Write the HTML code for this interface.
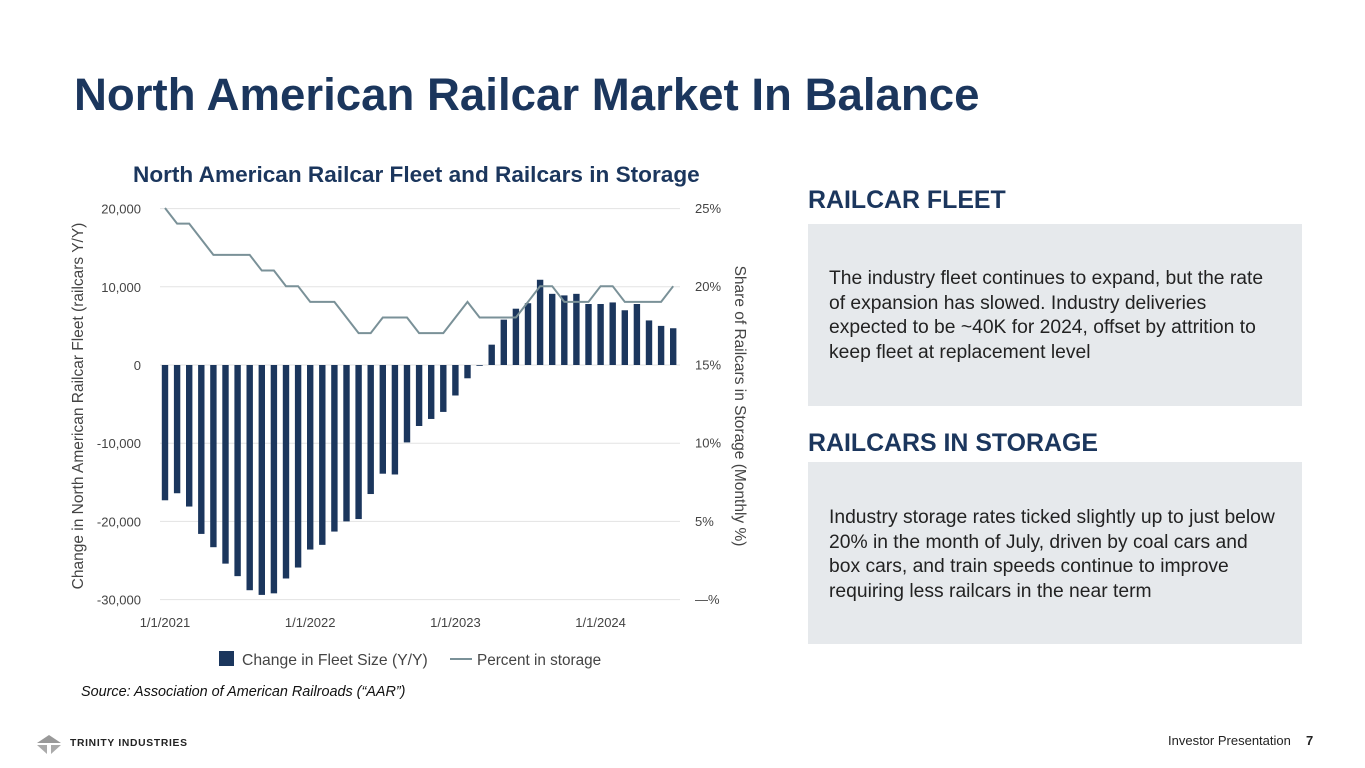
<!DOCTYPE html>
<html><head><meta charset="utf-8"><style>
body{margin:0;width:1365px;height:768px;background:#fff;font-family:"Liberation Sans",sans-serif;position:relative;overflow:hidden}
.a{position:absolute}
.navy{color:#1b365d}
</style></head><body>
<div class="a navy" style="left:74px;top:69px;font-size:45.6px;font-weight:bold;white-space:nowrap">North American Railcar Market In Balance</div>
<div class="a navy" style="left:133px;top:162px;font-size:22.6px;font-weight:bold;white-space:nowrap">North American Railcar Fleet and Railcars in Storage</div>
<svg class="a" style="left:0;top:0" width="1365" height="768" id="chart"></svg>
<div class="a navy" style="left:808px;top:186px;font-size:24.9px;font-weight:bold;white-space:nowrap">RAILCAR FLEET</div>
<div class="a" style="left:808px;top:224px;width:494px;height:182px;background:#e6e9ec"></div>
<div class="a" style="left:829px;top:267px;width:470px;font-size:19.3px;line-height:24.5px;color:#222;white-space:nowrap">The industry fleet continues to expand, but the rate<br>of expansion has slowed. Industry deliveries<br>expected to be ~40K for 2024, offset by attrition to<br>keep fleet at replacement level</div>
<div class="a navy" style="left:808px;top:429px;font-size:24.9px;font-weight:bold;white-space:nowrap">RAILCARS IN STORAGE</div>
<div class="a" style="left:808px;top:462px;width:494px;height:182px;background:#e6e9ec"></div>
<div class="a" style="left:829px;top:506px;width:470px;font-size:19.3px;line-height:24.5px;color:#222;white-space:nowrap">Industry storage rates ticked slightly up to just below<br>20% in the month of July, driven by coal cars and<br>box cars, and train speeds continue to improve<br>requiring less railcars in the near term</div>
<div class="a" style="left:81px;top:684px;font-size:14.4px;font-style:italic;color:#111;white-space:nowrap">Source: Association of American Railroads (“AAR”)</div>
<div class="a" style="left:33px;top:733px;width:160px;height:24px">
<svg width="32" height="22" style="position:absolute;left:0;top:0"><polygon points="16,2 28,10 4,10" fill="#999"/><polygon points="4,12 14,12 14,21" fill="#aaa"/><polygon points="18,12 28,12 18,21" fill="#aaa"/></svg>
<span style="position:absolute;left:37px;top:5px;font-size:10.3px;font-weight:bold;letter-spacing:0.7px;color:#222;white-space:nowrap">TRINITY INDUSTRIES</span></div>
<div class="a" style="left:1168px;top:733px;font-size:13px;color:#222">Investor Presentation</div>
<div class="a" style="left:1306px;top:733px;font-size:13px;font-weight:bold;color:#222">7</div>
<script>
const fleetChange=[-17.3,-16.4,-18.1,-21.6,-23.3,-25.4,-27.0,-28.8,-29.4,-29.2,-27.3,-25.9,-23.6,-23.0,-21.3,-20.0,-19.7,-16.5,-13.9,-14.0,-9.9,-7.8,-6.9,-6.0,-3.9,-1.7,-0.1,2.6,5.8,7.2,7.9,10.9,9.1,8.9,9.1,7.8,7.8,8.0,7.0,7.8,5.7,5.0,4.7];
const storagePct=[25,24,24,23,22,22,22,22,21,21,20,20,19,19,19,18,17,17,18,18,18,17,17,17,18,19,18,18,18,18,19,20,20,19,19,19,20,20,19,19,19,19,20];
const leftTicks=[20,10,0,-10,-20,-30];
const leftTickLabels=["20,000","10,000","0","-10,000","-20,000","-30,000"];
const rightTicks=[25,20,15,10,5,0];
const rightTickLabels=["25%","20%","15%","10%","5%","—%"];
const xLabels=["1/1/2021","1/1/2022","1/1/2023","1/1/2024"];
const xLabelIdx=[0,12,24,36];

const svg=document.getElementById('chart');
const NS='http://www.w3.org/2000/svg';
const x0=165,step=12.1,L=160,R=680;
const yL=v=>365-v*7.82;
const yR=p=>599-p*15.64;
const xi=i=>x0+i*step;
function mk(t,a,txt){const e=document.createElementNS(NS,t);for(const k in a)e.setAttribute(k,a[k]);if(txt!=null)e.textContent=txt;svg.appendChild(e);return e;}
leftTicks.forEach((v,i)=>{
 const g=mk('line',{x1:L,x2:R,y1:yL(v),y2:yL(v),stroke:'#e3e3e3','stroke-width':1});
 
 
 const t=mk('text',{x:141,y:yL(v)+5,'text-anchor':'end','font-size':13,fill:'#444','font-family':'Liberation Sans'},leftTickLabels[i]);
 
 
});
rightTicks.forEach((p,i)=>{
 const t=mk('text',{x:695,y:yR(p)+5,'font-size':13,fill:'#444','font-family':'Liberation Sans'},rightTickLabels[i]);
 
 
});
xLabels.forEach((s,i)=>{
 const t=mk('text',{x:xi(xLabelIdx[i]),y:627,'text-anchor':'middle','font-size':13,fill:'#444','font-family':'Liberation Sans'},s);
 
 
});
fleetChange.forEach((v,i)=>{
 const y1=yL(Math.max(v,0)),y2=yL(Math.min(v,0));
 const b=mk('rect',{x:xi(i)-3.2,y:y1,width:6.4,height:Math.max(y2-y1,0.8),fill:'#1b365d'});
 
 
});
const pl=mk('polyline',{points:storagePct.map((p,i)=>xi(i)+','+yR(p)).join(' '),fill:'none',stroke:'#7a9198','stroke-width':2});


const yt=mk('text',{transform:'translate(83,406) rotate(-90)','text-anchor':'middle','font-size':15.5,fill:'#444','font-family':'Liberation Sans'},'Change in North American Railcar Fleet (railcars Y/Y)');


const rt=mk('text',{transform:'translate(735,406) rotate(90)','text-anchor':'middle','font-size':15.5,fill:'#444','font-family':'Liberation Sans'},'Share of Railcars in Storage (Monthly %)');


const lb=mk('rect',{x:219,y:651,width:15,height:15,fill:'#1b365d'});


const lt1=mk('text',{x:242,y:665,'font-size':15.7,fill:'#444','font-family':'Liberation Sans'},'Change in Fleet Size (Y/Y)');


const ll=mk('line',{x1:450,x2:472,y1:659,y2:659,stroke:'#7a9198','stroke-width':2});


const lt2=mk('text',{x:477,y:665,'font-size':15.3,fill:'#444','font-family':'Liberation Sans'},'Percent in storage');


</script>
</body></html>
